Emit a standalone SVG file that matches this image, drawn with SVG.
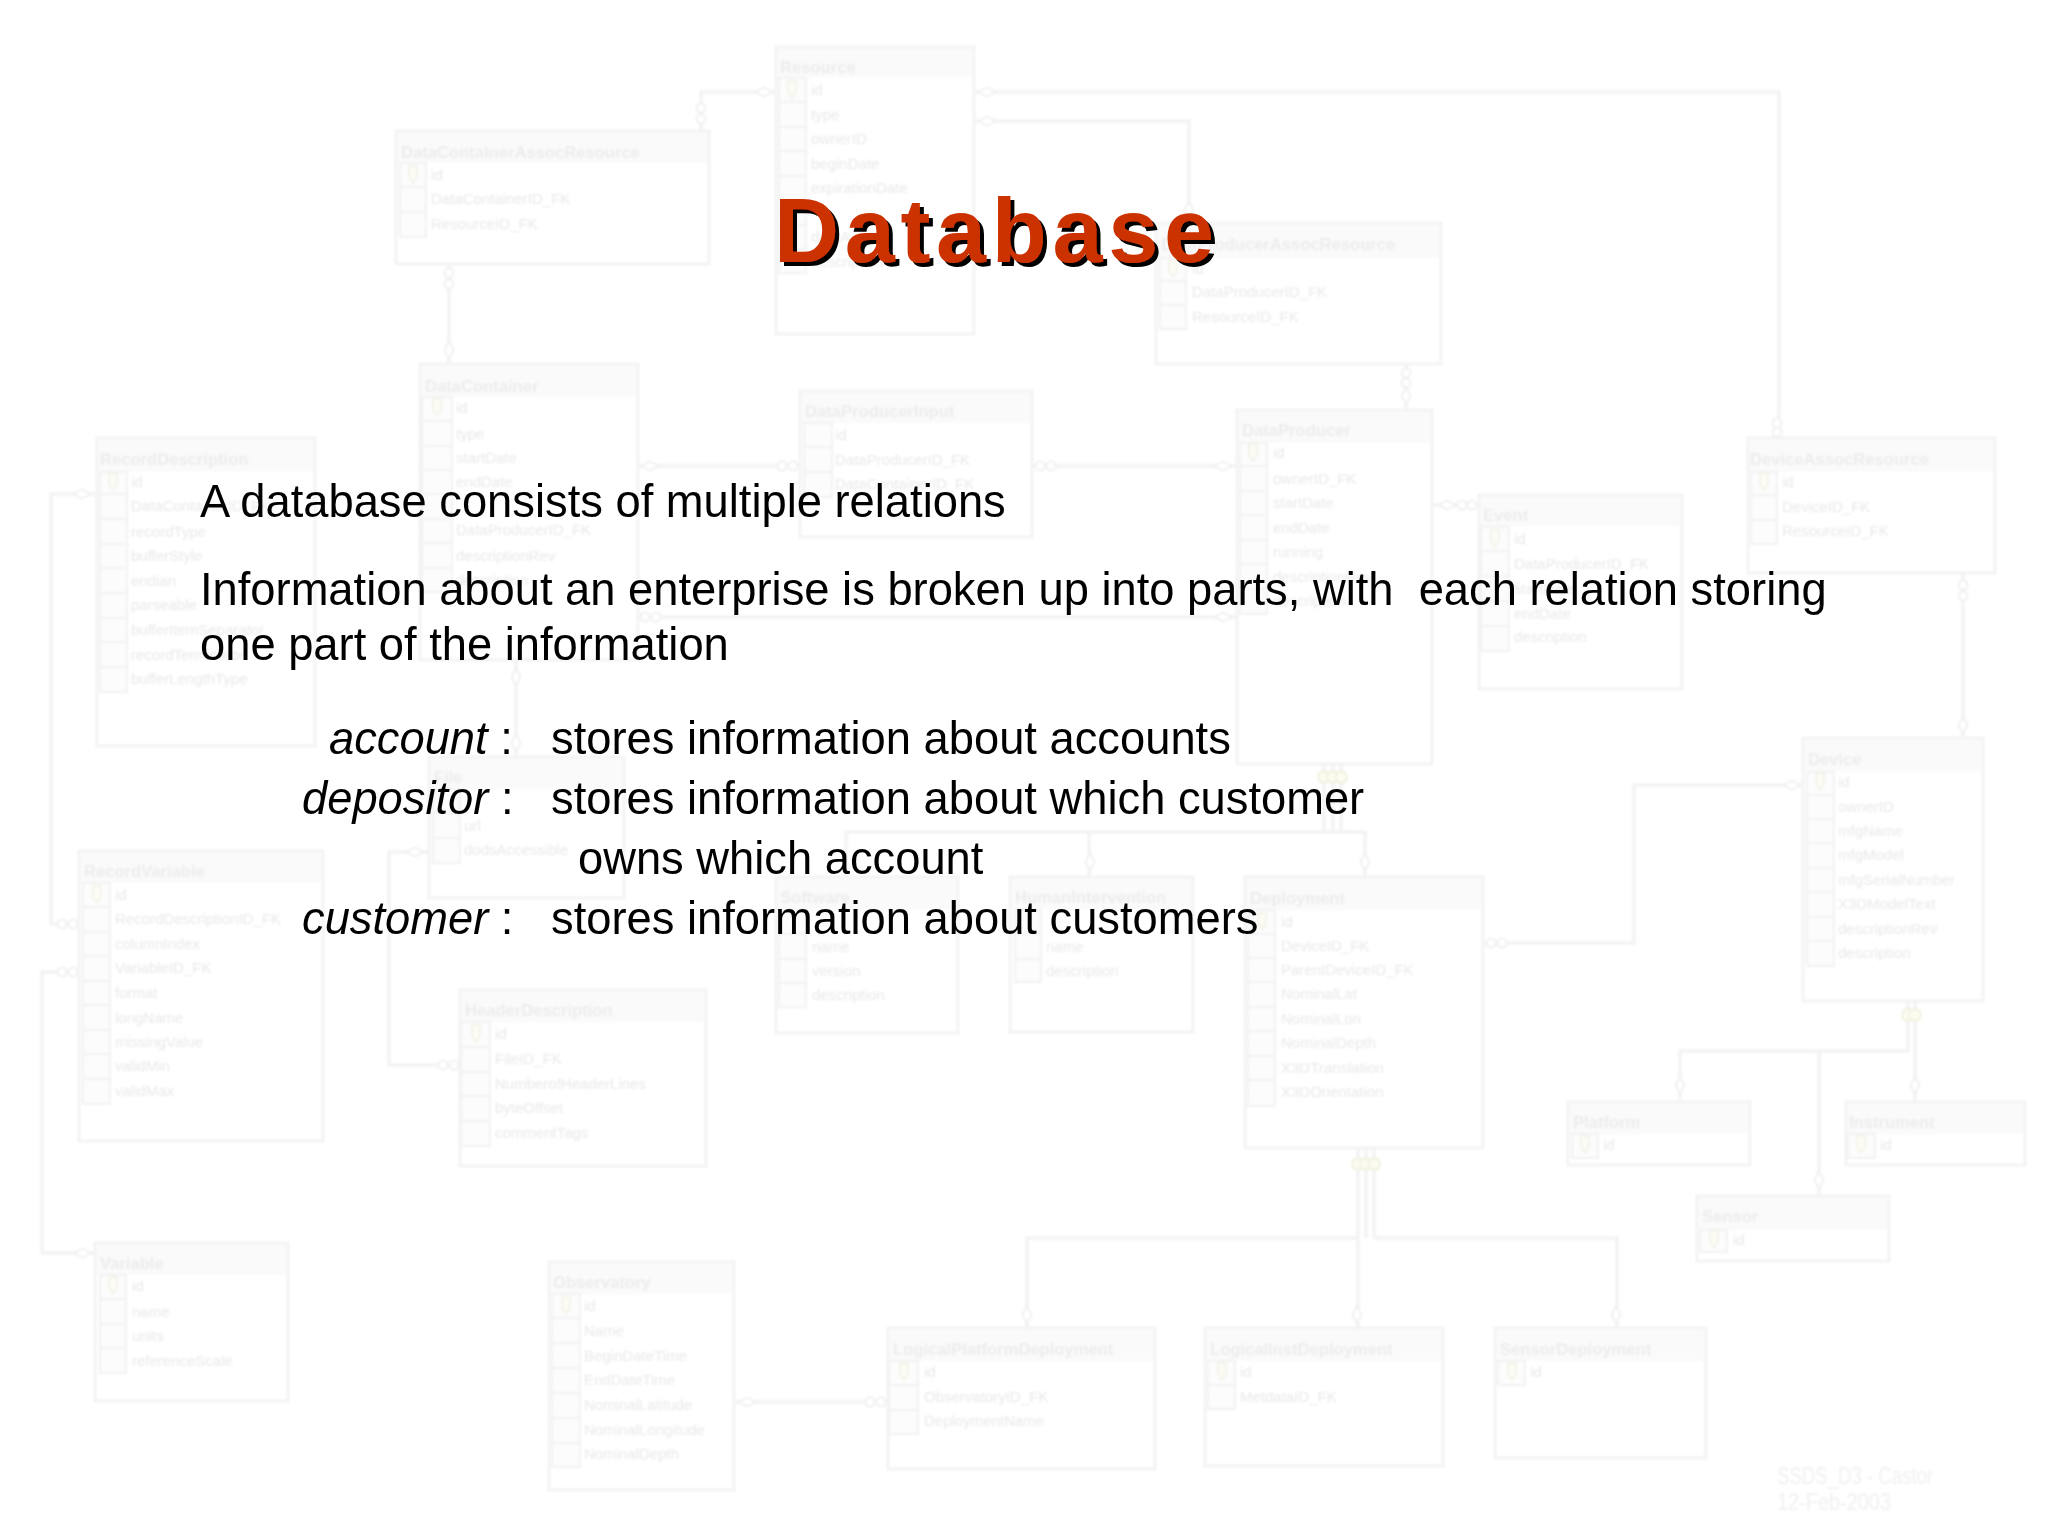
<svg xmlns="http://www.w3.org/2000/svg" width="2048" height="1536" viewBox="0 0 2048 1536">
<style>
.b{fill:#fff;stroke:#f3f3f3;stroke-width:3}
.h{fill:#fafafa}
.k{fill:#fcfcfc;stroke:#f2f2f2;stroke-width:2}
.t{font:bold 16.6px "Liberation Sans",Arial,sans-serif;fill:#ececec}
.r{font:15px "Liberation Sans",Arial,sans-serif;fill:#e8e8e8}
.l{fill:none;stroke:#f3f3f3;stroke-width:3.5}
.m{fill:#fff;stroke:#f0f0f0;stroke-width:1.8}
.y{fill:#fbfbef;stroke:#f0f0e2;stroke-width:1.8}
.main{font:45.3px "Liberation Sans",Arial,sans-serif;fill:#000;white-space:pre}
.title{font:bold 90px "Liberation Sans",Arial,sans-serif;fill:#cc3300;letter-spacing:5.7px;filter:url(#sh)}
.foot{font:23px "Liberation Sans",Arial,sans-serif;fill:#f0f0f0}
</style>
<defs>
<filter id="soft" x="-2%" y="-2%" width="104%" height="104%"><feGaussianBlur stdDeviation="0.8"/></filter>
<filter id="sh" x="-5%" y="-5%" width="110%" height="120%"><feDropShadow dx="4" dy="4" stdDeviation="0.4" flood-color="#000"/></filter>
<g id="key"><path d="M-4-9H4V2L0 8-4 2Z" fill="#fcfcf4" stroke="#f1f1e8" stroke-width="1.5"/></g>
<circle id="o" r="4.6" class="m"/>
<circle id="c" r="6" class="y"/>
<path id="dv" d="M0-9L4.5 0 0 9-4.5 0Z" class="m"/>
<path id="dh" d="M-9 0L0-4.5 9 0 0 4.5Z" class="m"/>
</defs>
<rect width="2048" height="1536" fill="#fff"/>
<g filter="url(#soft)">
<g id="connectors">
<path class="l" d="M776 92H701V131"/><path class="l" d="M449 264V364"/><path class="l" d="M974 92H1779V438"/><path class="l" d="M974 121H1189V223"/><path class="l" d="M1406 365V411"/>
<path class="l" d="M638 466H800"/><path class="l" d="M1033 466H1236"/><path class="l" d="M638 617H1236"/><path class="l" d="M1433 505H1478"/><path class="l" d="M1963 574V738"/>
<path class="l" d="M1483 943H1634V785H1803"/>
<path class="l" d="M1324 765V832M1333 765V832M1341 765V832M846 877V832H1365V877M1089 832V877"/>
<path class="l" d="M1358 1148V1329M1366 1148V1238M1374 1148V1238M1358 1238H1027V1329M1374 1238H1617V1329"/>
<path class="l" d="M1908 1002V1051H1680V1102M1915 1002V1102M1819 1051V1196"/>
<path class="l" d="M734 1402H887"/><path class="l" d="M96 494H51V924H79"/><path class="l" d="M79 972H42V1253H95"/><path class="l" d="M516 660V758"/><path class="l" d="M429 852H389V1065H460"/>
<use href="#dh" x="764" y="92"/><use href="#o" x="701" y="108"/><use href="#o" x="701" y="119"/>
<use href="#o" x="449" y="273"/><use href="#o" x="449" y="284"/><use href="#dv" x="449" y="350"/>
<use href="#dh" x="987" y="92"/><use href="#o" x="1777" y="423"/><use href="#o" x="1777" y="432"/>
<use href="#dh" x="987" y="121"/><use href="#dv" x="1189" y="210"/>
<use href="#o" x="1406" y="373"/><use href="#o" x="1406" y="383"/><use href="#dv" x="1406" y="396"/>
<use href="#dh" x="650" y="466"/><use href="#o" x="782" y="466"/><use href="#o" x="793" y="466"/>
<use href="#o" x="1040" y="466"/><use href="#o" x="1051" y="466"/><use href="#dh" x="1223" y="466"/>
<use href="#o" x="645" y="617"/><use href="#o" x="656" y="617"/><use href="#dh" x="1223" y="617"/>
<use href="#dh" x="1447" y="505"/><use href="#o" x="1462" y="505"/><use href="#o" x="1472" y="505"/>
<use href="#o" x="1963" y="585"/><use href="#o" x="1963" y="596"/><use href="#dv" x="1963" y="725"/>
<use href="#o" x="1491" y="943"/><use href="#o" x="1502" y="943"/><use href="#dh" x="1792" y="785"/>
<use href="#c" x="1324" y="777"/><use href="#c" x="1333" y="777"/><use href="#c" x="1341" y="777"/>
<use href="#dv" x="1090" y="862"/><use href="#dv" x="1365" y="862"/>
<use href="#c" x="1358" y="1164"/><use href="#c" x="1366" y="1164"/><use href="#c" x="1374" y="1164"/>
<use href="#dv" x="1027" y="1315"/><use href="#dv" x="1357" y="1315"/><use href="#dv" x="1616" y="1315"/>
<use href="#c" x="1908" y="1015"/><use href="#c" x="1915" y="1015"/>
<use href="#dv" x="1680" y="1085"/><use href="#dv" x="1915" y="1085"/><use href="#dv" x="1819" y="1180"/>
<use href="#dh" x="747" y="1402"/><use href="#o" x="870" y="1402"/><use href="#o" x="881" y="1402"/>
<use href="#dh" x="82" y="494"/><use href="#o" x="62" y="924"/><use href="#o" x="73" y="924"/>
<use href="#o" x="62" y="972"/><use href="#o" x="73" y="972"/><use href="#dh" x="83" y="1253"/>
<use href="#dv" x="516" y="677"/><use href="#dv" x="516" y="743"/>
<use href="#dh" x="415" y="852"/><use href="#o" x="443" y="1065"/><use href="#o" x="454" y="1065"/>
</g>
<g id="Resource"><rect class="b" x="776" y="47" width="198" height="287"/><rect class="h" x="778" y="49" width="194" height="28"/><path class="k" d="M779 78H806V273H779ZM779 102H806M779 127H806M779 151H806M779 176H806M779 200H806M779 225H806M779 249H806"/><use href="#key" x="792" y="90"/><text class="t" x="780" y="73">Resource</text><text class="r" x="811" y="95">id</text><text class="r" x="811" y="120">type</text><text class="r" x="811" y="144">ownerID</text><text class="r" x="811" y="169">beginDate</text><text class="r" x="811" y="193">expirationDate</text><text class="r" x="811" y="242">dataAvail</text><text class="r" x="811" y="267">description</text></g>
<g id="DataContainerAssocResource"><rect class="b" x="396" y="131" width="313" height="133"/><rect class="h" x="398" y="133" width="309" height="30"/><path class="k" d="M400 163H426V237H400ZM400 187H426M400 212H426"/><use href="#key" x="413" y="175"/><text class="t" x="401" y="158">DataContainerAssocResource</text><text class="r" x="431" y="180">id</text><text class="r" x="431" y="204">DataContainerID_FK</text><text class="r" x="431" y="229">ResourceID_FK</text></g>
<g id="DataProducerAssocResource"><rect class="b" x="1156" y="223" width="285" height="141"/><rect class="h" x="1158" y="225" width="281" height="33"/><path class="k" d="M1160 258H1186V329H1160ZM1160 281H1186M1160 305H1186"/><use href="#key" x="1173" y="269"/><text class="t" x="1161" y="250">DataProducerAssocResource</text><text class="r" x="1192" y="274">id</text><text class="r" x="1192" y="297">DataProducerID_FK</text><text class="r" x="1192" y="322">ResourceID_FK</text></g>
<g id="DataContainer"><rect class="b" x="420" y="364" width="218" height="296"/><rect class="h" x="422" y="366" width="214" height="31"/><path class="k" d="M422 397H452V592H422ZM422 421H452M422 446H452M422 470H452M422 494H452M422 519H452M422 543H452M422 568H452"/><use href="#key" x="437" y="408"/><text class="t" x="425" y="392">DataContainer</text><text class="r" x="456" y="413">id</text><text class="r" x="456" y="439">type</text><text class="r" x="456" y="463">startDate</text><text class="r" x="456" y="487">endDate</text><text class="r" x="456" y="535">DataProducerID_FK</text><text class="r" x="456" y="561">descriptionRev</text><text class="r" x="456" y="585">description</text></g>
<g id="DataProducerInput"><rect class="b" x="800" y="391" width="232" height="146"/><rect class="h" x="802" y="393" width="228" height="30"/><path class="k" d="M804 423H832V497H804ZM804 447H832M804 472H832"/><text class="t" x="805" y="417">DataProducerInput</text><text class="r" x="835" y="440">id</text><text class="r" x="835" y="465">DataProducerID_FK</text><text class="r" x="835" y="489">DataContainerID_FK</text></g>
<g id="DataProducer"><rect class="b" x="1237" y="410" width="195" height="354"/><rect class="h" x="1239" y="412" width="191" height="31"/><path class="k" d="M1240 443H1267V614H1240ZM1240 466H1267M1240 491H1267M1240 515H1267M1240 540H1267M1240 564H1267M1240 589H1267"/><use href="#key" x="1253" y="453"/><text class="t" x="1242" y="436">DataProducer</text><text class="r" x="1273" y="458">id</text><text class="r" x="1273" y="484">ownerID_FK</text><text class="r" x="1273" y="508">startDate</text><text class="r" x="1273" y="533">endDate</text><text class="r" x="1273" y="557">running</text><text class="r" x="1273" y="582">descriptionRev</text><text class="r" x="1273" y="606">description</text></g>
<g id="Event"><rect class="b" x="1479" y="495" width="203" height="194"/><rect class="h" x="1481" y="497" width="199" height="29"/><path class="k" d="M1481 527H1509V651H1481ZM1481 551H1509M1481 576H1509M1481 601H1509M1481 626H1509"/><use href="#key" x="1495" y="539"/><text class="t" x="1483" y="521">Event</text><text class="r" x="1514" y="544">id</text><text class="r" x="1514" y="569">DataProducerID_FK</text><text class="r" x="1514" y="594">startDate</text><text class="r" x="1514" y="619">endDate</text><text class="r" x="1514" y="642">description</text></g>
<g id="DeviceAssocResource"><rect class="b" x="1748" y="438" width="247" height="135"/><rect class="h" x="1750" y="440" width="243" height="32"/><path class="k" d="M1751 472H1777V544H1751ZM1751 495H1777M1751 520H1777"/><use href="#key" x="1764" y="482"/><text class="t" x="1750" y="465">DeviceAssocResource</text><text class="r" x="1782" y="487">id</text><text class="r" x="1782" y="512">DeviceID_FK</text><text class="r" x="1782" y="536">ResourceID_FK</text></g>
<g id="RecordDescription"><rect class="b" x="97" y="438" width="218" height="308"/><rect class="h" x="99" y="440" width="214" height="32"/><path class="k" d="M100 472H127V692H100ZM100 494H127M100 519H127M100 544H127M100 568H127M100 593H127M100 618H127M100 642H127M100 667H127"/><use href="#key" x="113" y="482"/><text class="t" x="100" y="465">RecordDescription</text><text class="r" x="131" y="487">id</text><text class="r" x="131" y="511">DataContainerID_FK</text><text class="r" x="131" y="537">recordType</text><text class="r" x="131" y="561">bufferStyle</text><text class="r" x="131" y="586">endian</text><text class="r" x="131" y="610">parseable</text><text class="r" x="131" y="635">bufferItemSeparator</text><text class="r" x="131" y="660">recordTerminator</text><text class="r" x="131" y="684">bufferLengthType</text></g>
<g id="File"><rect class="b" x="429" y="757" width="195" height="141"/><rect class="h" x="431" y="759" width="191" height="30"/><path class="k" d="M433 789H460V863H433ZM433 813H460M433 838H460"/><text class="t" x="434" y="783">File</text><text class="r" x="464" y="831">url</text><text class="r" x="464" y="855">dodsAccessible</text></g>
<g id="RecordVariable"><rect class="b" x="79" y="851" width="244" height="290"/><rect class="h" x="81" y="853" width="240" height="30"/><path class="k" d="M83 883H110V1104H83ZM83 907H110M83 932H110M83 956H110M83 981H110M83 1005H110M83 1030H110M83 1054H110M83 1079H110"/><use href="#key" x="97" y="895"/><text class="t" x="84" y="877">RecordVariable</text><text class="r" x="115" y="900">id</text><text class="r" x="115" y="924">RecordDescriptionID_FK</text><text class="r" x="115" y="949">columnIndex</text><text class="r" x="115" y="973">VariableID_FK</text><text class="r" x="115" y="998">format</text><text class="r" x="115" y="1023">longName</text><text class="r" x="115" y="1047">missingValue</text><text class="r" x="115" y="1071">validMin</text><text class="r" x="115" y="1096">validMax</text></g>
<g id="HeaderDescription"><rect class="b" x="460" y="990" width="246" height="176"/><rect class="h" x="462" y="992" width="242" height="30"/><path class="k" d="M461 1022H490V1146H461ZM461 1047H490M461 1072H490M461 1096H490M461 1121H490"/><use href="#key" x="476" y="1034"/><text class="t" x="465" y="1016">HeaderDescription</text><text class="r" x="495" y="1039">id</text><text class="r" x="495" y="1064">FileID_FK</text><text class="r" x="495" y="1089">NumberofHeaderLines</text><text class="r" x="495" y="1113">byteOffset</text><text class="r" x="495" y="1138">commentTags</text></g>
<g id="Variable"><rect class="b" x="95" y="1243" width="193" height="158"/><rect class="h" x="97" y="1245" width="189" height="30"/><path class="k" d="M100 1275H126V1373H100ZM100 1299H126M100 1324H126M100 1348H126"/><use href="#key" x="113" y="1286"/><text class="t" x="100" y="1269">Variable</text><text class="r" x="132" y="1291">id</text><text class="r" x="132" y="1317">name</text><text class="r" x="132" y="1341">units</text><text class="r" x="132" y="1366">referenceScale</text></g>
<g id="Observatory"><rect class="b" x="549" y="1262" width="185" height="228"/><rect class="h" x="551" y="1264" width="181" height="30"/><path class="k" d="M552 1294H580V1467H552ZM552 1318H580M552 1343H580M552 1368H580M552 1393H580M552 1418H580M552 1443H580"/><use href="#key" x="566" y="1306"/><text class="t" x="553" y="1288">Observatory</text><text class="r" x="584" y="1311">id</text><text class="r" x="584" y="1336">Name</text><text class="r" x="584" y="1361">BeginDateTime</text><text class="r" x="584" y="1385">EndDateTime</text><text class="r" x="584" y="1410">NominalLatitude</text><text class="r" x="584" y="1435">NominalLongitude</text><text class="r" x="584" y="1459">NominalDepth</text></g>
<g id="LogicalPlatformDeployment"><rect class="b" x="888" y="1328" width="267" height="141"/><rect class="h" x="890" y="1330" width="263" height="31"/><path class="k" d="M889 1361H918V1434H889ZM889 1385H918M889 1410H918"/><use href="#key" x="904" y="1372"/><text class="t" x="893" y="1355">LogicalPlatformDeployment</text><text class="r" x="924" y="1377">id</text><text class="r" x="924" y="1402">ObservatoryID_FK</text><text class="r" x="924" y="1426">DeploymentName</text></g>
<g id="LogicalInstDeployment"><rect class="b" x="1205" y="1328" width="238" height="138"/><rect class="h" x="1207" y="1330" width="234" height="31"/><path class="k" d="M1208 1361H1235V1409H1208ZM1208 1385H1235"/><use href="#key" x="1222" y="1372"/><text class="t" x="1210" y="1355">LogicalInstDeployment</text><text class="r" x="1240" y="1377">id</text><text class="r" x="1240" y="1402">MetdataID_FK</text></g>
<g id="SensorDeployment"><rect class="b" x="1495" y="1328" width="211" height="130"/><rect class="h" x="1497" y="1330" width="207" height="31"/><path class="k" d="M1498 1361H1525V1385H1498Z"/><use href="#key" x="1512" y="1372"/><text class="t" x="1500" y="1355">SensorDeployment</text><text class="r" x="1530" y="1377">id</text></g>
<g id="Sensor"><rect class="b" x="1697" y="1196" width="192" height="65"/><rect class="h" x="1699" y="1198" width="188" height="32"/><path class="k" d="M1700 1230H1727V1252H1700Z"/><use href="#key" x="1714" y="1240"/><text class="t" x="1702" y="1222">Sensor</text><text class="r" x="1733" y="1245">id</text></g>
<g id="Platform"><rect class="b" x="1568" y="1102" width="182" height="63"/><rect class="h" x="1570" y="1104" width="178" height="30"/><path class="k" d="M1572 1134H1598V1158H1572Z"/><use href="#key" x="1585" y="1145"/><text class="t" x="1573" y="1128">Platform</text><text class="r" x="1603" y="1150">id</text></g>
<g id="Instrument"><rect class="b" x="1846" y="1102" width="179" height="63"/><rect class="h" x="1848" y="1104" width="175" height="30"/><path class="k" d="M1848 1134H1875V1158H1848Z"/><use href="#key" x="1861" y="1145"/><text class="t" x="1849" y="1128">Instrument</text><text class="r" x="1880" y="1150">id</text></g>
<g id="Device"><rect class="b" x="1803" y="738" width="180" height="263"/><rect class="h" x="1805" y="740" width="176" height="32"/><path class="k" d="M1807 772H1834V966H1807ZM1807 795H1834M1807 819H1834M1807 843H1834M1807 868H1834M1807 892H1834M1807 917H1834M1807 941H1834"/><use href="#key" x="1820" y="782"/><text class="t" x="1808" y="765">Device</text><text class="r" x="1838" y="787">id</text><text class="r" x="1838" y="812">ownerID</text><text class="r" x="1838" y="836">mfgName</text><text class="r" x="1838" y="860">mfgModel</text><text class="r" x="1838" y="885">mfgSerialNumber</text><text class="r" x="1838" y="909">X3DModelText</text><text class="r" x="1838" y="934">descriptionRev</text><text class="r" x="1838" y="958">description</text></g>
<g id="Deployment"><rect class="b" x="1245" y="877" width="238" height="271"/><rect class="h" x="1247" y="879" width="234" height="31"/><path class="k" d="M1248 910H1275V1106H1248ZM1248 934H1275M1248 958H1275M1248 982H1275M1248 1007H1275M1248 1031H1275M1248 1056H1275M1248 1080H1275"/><use href="#key" x="1262" y="922"/><text class="t" x="1250" y="904">Deployment</text><text class="r" x="1281" y="927">id</text><text class="r" x="1281" y="951">DeviceID_FK</text><text class="r" x="1281" y="975">ParentDeviceID_FK</text><text class="r" x="1281" y="999">NominalLat</text><text class="r" x="1281" y="1024">NominalLon</text><text class="r" x="1281" y="1048">NominalDepth</text><text class="r" x="1281" y="1073">X3DTranslation</text><text class="r" x="1281" y="1097">X3DOrientation</text></g>
<g id="Software"><rect class="b" x="776" y="877" width="182" height="156"/><rect class="h" x="778" y="879" width="178" height="31"/><path class="k" d="M779 910H806V1007H779ZM779 934H806M779 959H806M779 983H806"/><text class="t" x="780" y="903">Software</text><text class="r" x="812" y="952">name</text><text class="r" x="812" y="976">version</text><text class="r" x="812" y="1000">description</text></g>
<g id="HumanIntervention"><rect class="b" x="1010" y="877" width="183" height="155"/><rect class="h" x="1012" y="879" width="179" height="31"/><path class="k" d="M1015 910H1041V982H1015ZM1015 934H1041M1015 959H1041"/><text class="t" x="1015" y="903">HumanIntervention</text><text class="r" x="1046" y="952">name</text><text class="r" x="1046" y="976">description</text></g>
<g id="footer"><text class="foot" x="1777" y="1484" textLength="156" lengthAdjust="spacingAndGlyphs">SSDS_D3 - Castor</text><text class="foot" x="1777" y="1510" textLength="114" lengthAdjust="spacingAndGlyphs">12-Feb-2003</text></g>
</g>
<g id="slide-text">
<text class="title" x="774" y="262">Database</text>
<text class="main" x="200" y="517">A database consists of multiple relations</text>
<text class="main" x="200" y="605">Information about an enterprise is broken up into parts, with  each relation storing</text>
<text class="main" x="200" y="660">one part of the information</text>
<text class="main" x="329" y="754"><tspan font-style="italic">account</tspan> :</text><text class="main" x="551" y="754">stores information about accounts</text>
<text class="main" x="302" y="814"><tspan font-style="italic">depositor</tspan> :</text><text class="main" x="551" y="814">stores information about which customer</text>
<text class="main" x="578" y="874">owns which account</text>
<text class="main" x="302" y="934"><tspan font-style="italic">customer</tspan> :</text><text class="main" x="551" y="934">stores information about customers</text>
</g>
</svg>
